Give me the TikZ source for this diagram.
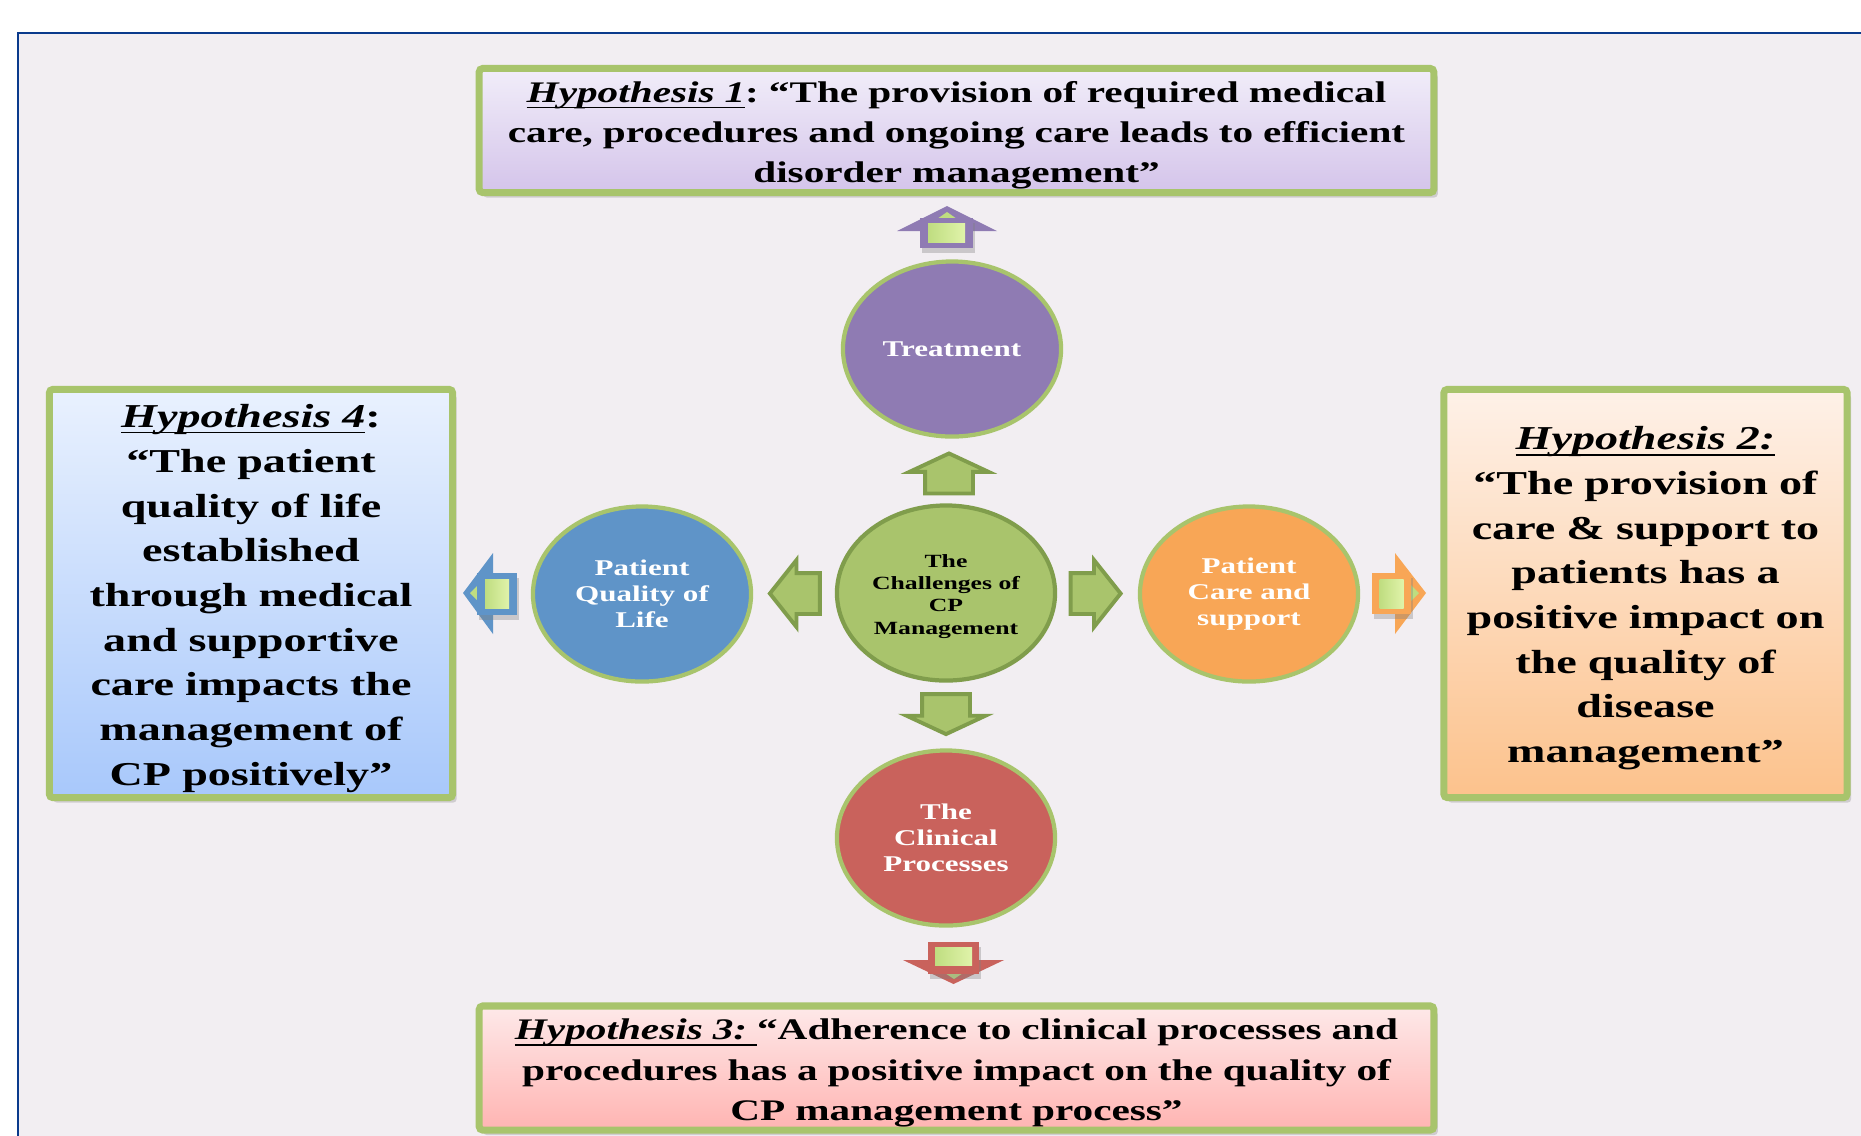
\documentclass[tikz,border=0pt]{standalone}
\usepackage{fontspec}
\setmainfont{Liberation Serif}
\newfontfamily\widefont[FakeStretch=1.38]{Liberation Serif}
\usepackage{tikz}
\usetikzlibrary{calc,shapes.geometric,shapes.arrows,shadows}
\definecolor{paper}{HTML}{F2EEF2}
\definecolor{frameblue}{HTML}{0A3A8C}
\definecolor{boxgreen}{HTML}{A8C46C}
\definecolor{coregreen}{HTML}{A9C46C}
\definecolor{coredark}{HTML}{809D4C}
\definecolor{treatpurple}{HTML}{8F7BB3}
\definecolor{lifeblue}{HTML}{5F94C8}
\definecolor{careorange}{HTML}{F8A656}
\definecolor{clinicred}{HTML}{C9625C}
\definecolor{limeA}{HTML}{BFDD80}
\definecolor{limeB}{HTML}{E0F3AA}
\definecolor{oneTop}{HTML}{F1EDF9}
\definecolor{oneBot}{HTML}{D4C4EA}
\definecolor{twoTop}{HTML}{FEF1E8}
\definecolor{twoBot}{HTML}{FCC28C}
\definecolor{threeTop}{HTML}{FEE9E9}
\definecolor{threeBot}{HTML}{FFB4B2}
\definecolor{fourTop}{HTML}{E9F1FE}
\definecolor{fourBot}{HTML}{A8C8FB}
\newcommand{\hyptag}[1]{\underline{\smash{\textit{#1}}}\raisebox{0.11cm}{\vphantom{Hy}}}
\frenchspacing

\begin{document}
\begin{tikzpicture}[x=0.01cm,y=-0.01cm,
    hypbox/.style={draw=boxgreen,line width=2pt,rounded corners=1pt,inner sep=0pt,align=center,
                   drop shadow={shadow xshift=0.04cm,shadow yshift=-0.05cm,opacity=0.3}},
    hypsmall/.style={hypbox,minimum width=9.54cm,minimum height=1.24cm,text width=9.4cm,
                   font=\widefont\bfseries\fontsize{8.5}{11.4}\selectfont},
    hyptall/.style={hypbox,minimum width=4.03cm,minimum height=4.08cm,text width=3.9cm,
                   font=\widefont\bfseries\fontsize{9.5}{12.7}\selectfont},
    topic/.style={ellipse,draw=boxgreen,line width=1.2pt,minimum width=2.18cm,minimum height=1.75cm,
                   inner sep=0pt,align=center,text=white,
                   font=\widefont\bfseries\fontsize{6.4}{7.4}\selectfont},
    greenarrow/.style={single arrow,draw=coredark,fill=coregreen,line width=1.1pt,inner xsep=0pt},
    vgreen/.style={greenarrow,inner ysep=0.22cm,single arrow head extend=0.155cm,
                   single arrow tip angle=130,minimum height=0.4cm},
    hgreen/.style={greenarrow,inner ysep=0.185cm,single arrow head extend=0.13cm,
                   single arrow tip angle=103,minimum height=0.5cm},
    calloutbox/.style={inner sep=0pt,drop shadow={shadow xshift=0.02cm,shadow yshift=-0.05cm,opacity=0.35}},
    limebox/.style={inner sep=0pt,left color=limeA,right color=limeB}]

\fill[white] (0,0) rectangle (1861,1135);
\useasboundingbox (0,0) rectangle (1861,1135);
\clip (0,0) rectangle (1861,1135);

%outer frame
\draw[frameblue,line width=0.8pt,fill=paper] (18,33) rectangle (1900,1170);

%hypotheses
\node[hypsmall,top color=oneTop,bottom color=oneBot] (hypOne) at (956.5,130.5)
  {\hyptag{Hypothesis 1}: “The provision of required medical\\care, procedures and ongoing care leads to efficient\\disorder management”};
\node[hypsmall,top color=threeTop,bottom color=threeBot] (hypThree) at (956.5,1068)
  {\hyptag{Hypothesis 3:~}“Adherence to clinical processes and\\procedures has a positive impact on the quality of\\CP management process”};
\node[hyptall,top color=fourTop,bottom color=fourBot] (hypFour) at (251,593.5)
  {\hyptag{Hypothesis 4}:\\“The patient\\quality of life\\established\\through medical\\and supportive\\care impacts the\\management of\\CP positively”};
\node[hyptall,top color=twoTop,bottom color=twoBot] (hypTwo) at (1645.5,593.5)
  {\hyptag{Hypothesis 2:}\\“The provision of\\care \& support to\\patients has a\\positive impact on\\the quality of\\disease\\management”};

%topics
\node[topic,fill=coregreen,draw=coredark,text=black,
      font=\widefont\bfseries\fontsize{5.3}{6.3}\selectfont] (core) at (946,593)
  {\rule{0pt}{1.06em}The\\Challenges of\\CP\\Management};
\node[topic,fill=treatpurple] (treat) at (952,349) {Treatment};
\node[topic,fill=lifeblue] (life) at (642,594) {Patient\\Quality of\\Life};
\node[topic,fill=careorange] (care) at (1249,594) {Patient\\Care and\\support};
\node[topic,fill=clinicred] (clinic) at (946,838) {The\\Clinical\\Processes};

%green arrows
\node[vgreen,rotate=90] (upArr) at ($(core.north)!0.5!(treat.south)+(0,8)$) {};
\node[vgreen,rotate=-90] (downArr) at ($(core.south)!0.5!(clinic.north)+(0,-7)$) {};
\node[hgreen,rotate=180] (leftArr) at ($(core.west)!0.5!(life.east)+(9,0)$) {};
\node[hgreen] (rightArr) at ($(core.east)!0.5!(care.west)+(-10,0)$) {};

%callout up
\fill[treatpurple] (947,206) -- (997,231) -- (897,231) -- cycle;
\fill[limeA] (947,212) -- (957,219) -- (937,219) -- cycle;
\node[calloutbox,fill=treatpurple,minimum width=0.53cm,minimum height=0.30cm] (cOne) at (946.5,233) {};
\node[limebox,minimum width=0.37cm,minimum height=0.19cm] at (cOne) {};
%callout left
\fill[lifeblue] (463,593) -- (493,553) -- (493,634) -- cycle;
\fill[limeA] (470,593) -- (478,585) -- (478,601) -- cycle;
\node[calloutbox,fill=lifeblue,minimum width=0.40cm,minimum height=0.42cm] (cFour) at (497,594) {};
\node[limebox,minimum width=0.24cm,minimum height=0.29cm] at (cFour) {};
%callout right
\fill[careorange] (1426,593) -- (1395,553) -- (1395,634) -- cycle;
\fill[limeA] (1419,593) -- (1411,585) -- (1411,601) -- cycle;
\node[calloutbox,fill=careorange,minimum width=0.39cm,minimum height=0.41cm] (cTwo) at (1391.5,593.5) {};
\node[limebox,minimum width=0.24cm,minimum height=0.29cm] at (cTwo) {};
%callout down
\fill[clinicred] (953.5,984) -- (1004,960) -- (903,960) -- cycle;
\fill[limeA] (954,979) -- (963,973) -- (945,973) -- cycle;
\node[calloutbox,fill=clinicred,minimum width=0.51cm,minimum height=0.32cm] (cThree) at (953.5,958) {};
\node[limebox,minimum width=0.37cm,minimum height=0.18cm] at (953.5,956) {};

\end{tikzpicture}
\end{document}
